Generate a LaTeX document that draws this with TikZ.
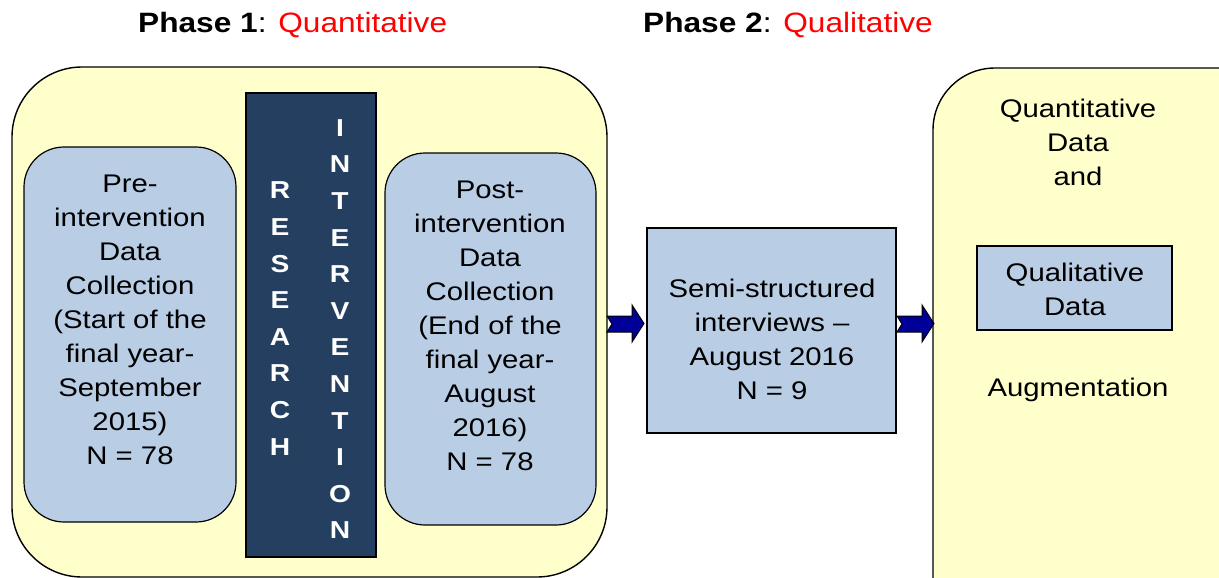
\documentclass[tikz,border=0pt]{standalone}
\usepackage{graphicx}
\usepackage{fontspec}
\setmainfont{Liberation Sans}
\definecolor{paleyellow}{HTML}{FFFFCC}
\definecolor{paleblue}{HTML}{B9CDE5}
\definecolor{navybar}{HTML}{243F60}
\definecolor{arrowblue}{HTML}{000099}
\newcommand\hx[1]{\scalebox{1.15}[1]{#1}}
\newcommand\lines[1]{\hx{\begin{tabular}{@{}c@{}}#1\end{tabular}}}
\begin{document}
\begin{tikzpicture}[x=1pt,y=-1pt,
  outer/.style={draw=black,line width=1.4pt,fill=paleyellow},
  inner/.style={draw=black,line width=1.2pt,fill=paleblue},
  txt/.style={font=\fontsize{25.5}{34}\selectfont,inner sep=0pt,text=black},
  vtxt/.style={font=\fontsize{24.5}{36.6}\selectfont\bfseries,inner sep=0pt,text=white},
  ttl/.style={font=\fontsize{28}{32}\selectfont,anchor=base west,inner sep=0pt},
  blockarrow/.style={draw=black,line width=1pt,fill=arrowblue}]
\useasboundingbox (0,0) rectangle (1219,578);
% titles
\node[ttl] (t1) at (138,33) {\scalebox{1.13}[1]{\textbf{Phase 1}: \textcolor{red}{Quantitative}}};
\node[ttl] (t2) at (643,33) {\scalebox{1.13}[1]{\textbf{Phase 2}: \textcolor{red}{Qualitative}}};
% big boxes
\draw[outer,rounded corners=70pt] (12,67) rectangle (607,577);
\draw[outer,rounded corners=62pt] (933,68) rectangle (1300,640);
% pre / post
\draw[inner,rounded corners=40pt] (24,147) rectangle (236,522);
\node[txt] (pre) at (130,322) {\lines{Pre-\\intervention\\Data\\Collection\\(Start of the\\final year-\\September\\2015)\\N = 78}};
\draw[inner,rounded corners=40pt] (385,153) rectangle (596,525);
\node[txt] (post) at (490,327.5) {\lines{Post-\\intervention\\Data\\Collection\\(End of the\\final year-\\August\\2016)\\N = 78}};
% bar
\draw[fill=navybar,draw=black,line width=1.2pt] (246,93) rectangle (376,557);
\node[vtxt] (research) at (280,319.7) {\lines{R\\E\\S\\E\\A\\R\\C\\H}};
\node[vtxt] (interv) at (340,330.2) {\lines{I\\N\\T\\E\\R\\V\\E\\N\\T\\I\\O\\N}};
% semi
\node[inner,minimum width=249pt,minimum height=205pt,inner sep=0pt] (semi) at (771.5,330.5) {};
\node[txt] (semitxt) at (772,342) {\lines{Semi-structured\\interviews --\\August 2016\\N = 9}};
% right contents
\node[txt] (quant) at (1078,145) {\lines{Quantitative\\Data\\and}};
\node[inner,minimum width=195pt,minimum height=84pt,inner sep=0pt] (qual) at (1074.5,288) {};
\node[txt] (qualtxt) at (1075,292) {\lines{Qualitative\\Data}};
\node[txt] (aug) at (1078,390) {\lines{Augmentation}};
% arrows
\draw[blockarrow] (607,316) -- (632,316) -- (632,305) -- (644,323.5) -- (632,342) -- (632,332) -- (607,332) -- (612,324) -- cycle;
\draw[blockarrow] (897,316) -- (922,316) -- (922,305) -- (934,323.5) -- (922,342) -- (922,332) -- (897,332) -- (902,324) -- cycle;
\end{tikzpicture}
\end{document}
